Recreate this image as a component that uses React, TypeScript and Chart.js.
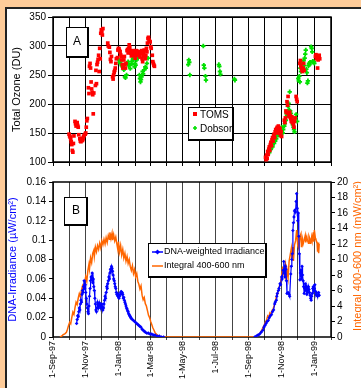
import React, { useEffect, useRef } from 'react';
import { Chart, registerables } from 'chart.js';
Chart.register(...registerables);

// x values are days since 1-Sep-97
const monthDays = [0, 30, 61, 91, 122, 153, 181, 212, 242, 273, 303, 334, 365, 395, 426, 456, 487, 518];
const monthLabels = ['1-Sep-97', '', '1-Nov-97', '', '1-Jan-98', '', '1-Mar-98', '', '1-May-98', '', '1-Jul-98', '', '1-Sep-98', '', '1-Nov-98', '', '1-Jan-99', ''];
const ozoneTicks = [100, 150, 200, 250, 300, 350];
const dnaTicks = [0, 0.02, 0.04, 0.06, 0.08, 0.1, 0.12, 0.14, 0.16];
const integralTicks = [0, 2, 4, 6, 8, 10, 12, 14, 16, 18, 20];

const tomsDays = [
  30, 31, 32, 33, 34, 35, 36, 37, 38, 39,
  41, 42, 43, 44, 45, 46, 47, 48, 50, 51,
  52, 53, 54, 55, 56, 57, 58, 60, 61, 62,
  63, 64, 66, 67, 68, 69, 70, 71, 72, 73,
  74, 75, 76, 79, 80, 81, 82, 83, 84, 85,
  86, 87, 88, 89, 90, 91, 92, 93, 102, 103,
  105, 106, 107, 108, 109, 111, 112, 113, 114, 115,
  116, 117, 118, 120, 121, 122, 123, 124, 125, 126,
  127, 128, 129, 130, 132, 133, 134, 135, 136, 138,
  139, 140, 141, 142, 143, 144, 145, 146, 148, 149,
  150, 151, 152, 153, 154, 155, 156, 157, 158, 159,
  160, 161, 162, 164, 165, 166, 167, 168, 169, 170,
  172, 173, 174, 175, 176, 177, 178, 179, 180, 181,
  182, 183, 185, 186, 187, 188, 189,
  396, 397, 398, 399, 400, 401, 402, 403, 404, 405,
  406, 407, 408, 409, 410, 411, 412, 413, 414, 415,
  416, 417, 418, 419, 420, 421, 422, 423, 424, 425,
  426, 431, 432, 433, 434, 435, 436, 437, 438, 439,
  440, 441, 442, 443, 444, 445, 446, 447, 448, 449,
  450, 451, 453, 454, 455, 460, 461, 462, 463, 464,
  465, 466, 467, 468, 489, 490, 491, 492, 493, 494,
  495, 496, 497,
];
const tomsOzone = [
  148, 145, 143, 140, 135, 130, 120, 117, 132, 145,
  170, 166, 162, 165, 168, 163, 160, 147, 140, 136,
  135, 138, 141, 137, 140, 144, 146, 148, 150, 160,
  171, 175, 228, 218, 265, 270, 262, 238, 226, 220,
  216, 183, 219, 232, 258, 235, 268, 272, 277, 284,
  256, 296, 278, 322, 328, 325, 319, 330, 305, 300,
  298, 289, 277, 273, 282, 247, 243, 250, 255, 258,
  262, 270, 278, 280, 293, 296, 295, 292, 290, 285,
  282, 276, 268, 262, 276, 282, 268, 262, 270, 292,
  294, 288, 296, 302, 298, 292, 288, 283, 286, 290,
  292, 287, 284, 279, 289, 292, 286, 291, 284, 288,
  290, 286, 281, 287, 292, 278, 273, 283, 289, 293,
  278, 284, 296, 290, 305, 313, 315, 310, 308, 307,
  299, 296, 284, 273, 270, 267, 265,
  108, 104, 112, 106, 118, 113, 122, 126, 120, 130,
  134, 128, 138, 142, 136, 145, 148, 142, 152, 156,
  150, 158, 160, 154, 162, 156, 150, 158, 146, 152,
  144, 172, 168, 176, 188, 185, 204, 198, 213, 182,
  178, 186, 180, 175, 170, 178, 168, 172, 165, 160,
  170, 176, 213, 208, 204, 270, 275, 265, 262, 258,
  256, 262, 270, 258, 282, 285, 278, 283, 262, 276,
  280, 284, 278,
];

const dobsonDays = [
  123, 124, 126, 128, 130, 132, 134, 135, 137, 139,
  140, 141, 143, 144, 146, 147, 148, 149, 150, 152,
  153, 154, 156, 158, 159, 161, 162, 163, 164, 165,
  167, 168, 170, 172, 173, 175, 177, 252, 253, 254,
  255, 280, 281, 282, 284, 285, 309, 310, 311, 312,
  338, 339, 402, 403, 404, 405, 406, 408, 409, 410,
  412, 413, 414, 416, 417, 418, 420, 421, 422, 424,
  425, 426, 428, 429, 431, 432, 434, 435, 436, 438,
  439, 440, 441, 442, 443, 444, 445, 446, 447, 448,
  449, 450, 452, 453, 455, 457, 458, 459, 460, 461,
  462, 463, 464, 466, 467, 468, 469, 470, 471, 472,
  473, 474, 475, 476, 477, 478, 479, 480, 481, 482,
  483, 484, 485, 486, 487,
];
const dobsonOzone = [
  276, 272, 270, 266, 264, 259, 247, 245, 250, 270,
  273, 266, 267, 261, 273, 269, 282, 278, 276, 264,
  270, 267, 276, 280, 282, 250, 244, 238, 242, 247,
  256, 252, 259, 264, 262, 270, 279, 268, 276, 272,
  250, 300, 267, 262, 248, 241, 268, 265, 256, 251,
  243, 241, 120, 116, 124, 128, 122, 130, 126, 134,
  132, 138, 136, 140, 145, 148, 150, 146, 152, 158,
  154, 160, 150, 156, 162, 166, 172, 184, 180, 196,
  201, 190, 221, 188, 184, 178, 172, 168, 164, 160,
  156, 152, 176, 182, 170, 244, 240, 248, 238, 262,
  256, 266, 268, 270, 275, 266, 279, 286, 293, 260,
  254, 236, 240, 266, 270, 268, 272, 272, 299, 296,
  290, 274, 272, 273, 270,
];

const dnaDays = [
  44, 45, 46, 47, 48, 49, 50, 51, 52, 53,
  54, 55, 56, 57, 58, 59, 60, 61, 62, 63,
  64, 65, 66, 67, 68, 69, 70, 71, 72, 73,
  74, 75, 76, 77, 78, 79, 80, 81, 82, 83,
  84, 85, 86, 87, 88, 89, 90, 91, 92, 93,
  94, 95, 96, 97, 98, 99, 100, 101, 102, 103,
  104, 105, 106, 107, 108, 109, 110, 111, 112, 113,
  114, 115, 116, 117, 118, 119, 120, 121, 122, 123,
  124, 125, 126, 127, 128, 129, 130, 131, 132, 133,
  134, 135, 136, 137, 138, 139, 140, 141, 142, 143,
  144, 145, 146, 148, 150, 152, 154, 156, 158, 160,
  162, 164, 166, 168, 170, 172, 175, 178, 181, 184,
  187, 190, 194, 198, 202, 206, 290,
  376, 379, 382, 385, 388, 391, 393, 395, 397, 399,
  401, 403, 405, 407, 409, 411, 413, 414, 416, 417,
  418, 420, 421, 423, 424, 426, 427, 429, 430, 431,
  432, 433, 434, 435, 436, 438, 440, 441, 443, 444,
  445, 446, 447, 448, 449, 450, 451, 452, 453, 454,
  455, 456, 457, 458, 459, 460, 461, 462, 463, 464,
  465, 466, 467, 468, 469, 470, 471, 472, 473, 474,
  475, 476, 477, 478, 479, 480, 481, 482, 483, 484,
  485, 486, 487, 488, 489, 490, 491, 492, 493, 494,
  495, 496,
];
const dnaValues = [
  0.014, 0.018, 0.022, 0.021, 0.026, 0.030, 0.028, 0.034, 0.038, 0.036,
  0.044, 0.048, 0.046, 0.052, 0.058, 0.050, 0.054, 0.046, 0.040, 0.034,
  0.030, 0.026, 0.024, 0.032, 0.042, 0.050, 0.058, 0.062, 0.060, 0.066,
  0.056, 0.060, 0.052, 0.048, 0.040, 0.034, 0.028, 0.026, 0.030, 0.036,
  0.034, 0.030, 0.032, 0.035, 0.033, 0.030, 0.032, 0.034, 0.031, 0.028,
  0.030, 0.034, 0.038, 0.042, 0.040, 0.046, 0.052, 0.050, 0.055, 0.058,
  0.062, 0.060, 0.066, 0.070, 0.068, 0.073, 0.071, 0.068, 0.064, 0.060,
  0.058, 0.055, 0.052, 0.050, 0.046, 0.044, 0.045, 0.042, 0.043, 0.040,
  0.042, 0.044, 0.046, 0.047, 0.045, 0.046, 0.044, 0.040, 0.041, 0.038,
  0.036, 0.034, 0.032, 0.030, 0.029, 0.027, 0.026, 0.024, 0.023, 0.022,
  0.021, 0.020, 0.019, 0.018, 0.017, 0.016, 0.015, 0.014, 0.013, 0.012,
  0.011, 0.010, 0.008, 0.007, 0.006, 0.005, 0.004, 0.004, 0.003, 0.003,
  0.002, 0.002, 0.001, 0.001, 0.000, 0.000, null,
  0.000, 0.001, 0.002, 0.003, 0.005, 0.007, 0.010, 0.012, 0.014, 0.016,
  0.017, 0.020, 0.022, 0.023, 0.026, 0.028, 0.034, 0.036, 0.038, 0.042,
  0.045, 0.048, 0.050, 0.055, 0.054, 0.062, 0.060, 0.069, 0.078, 0.066,
  0.062, 0.073, 0.070, 0.058, 0.045, 0.046, 0.044, 0.042, 0.065, 0.073,
  0.080, 0.086, 0.110, 0.118, 0.124, 0.130, 0.131, 0.129, 0.140, 0.148,
  0.133, 0.120, 0.128, 0.104, 0.086, 0.059, 0.066, 0.069, 0.060, 0.073,
  0.064, 0.058, 0.052, 0.045, 0.050, 0.055, 0.048, 0.052, 0.044, 0.050,
  0.046, 0.052, 0.049, 0.046, 0.043, 0.040, 0.038, 0.042, 0.045, 0.050,
  0.052, 0.048, 0.050, 0.054, 0.047, 0.044, 0.046, 0.043, 0.042, 0.044,
  0.046, 0.043,
];

const integralDays = [
  13, 16, 19, 22, 25, 27, 29, 31, 33, 35,
  37, 39, 41, 43, 45, 47, 49, 51, 53, 55,
  57, 59, 61, 63, 65, 67, 68, 70, 72, 74,
  76, 77, 79, 81, 83, 85, 87, 89, 91, 93,
  95, 97, 99, 101, 103, 105, 106, 108, 110, 111,
  113, 115, 117, 119, 121, 122, 124, 126, 128, 130,
  132, 134, 136, 138, 140, 142, 144, 146, 148, 150,
  152, 154, 156, 158, 160, 162, 164, 166, 168, 170,
  172, 174, 176, 178, 180, 182, 184, 186, 188, 190,
  192, 195, 198, 201, 250, 300, 350, 378,
  380, 383, 386, 389, 392, 395, 398, 400, 402, 404,
  406, 408, 410, 412, 414, 416, 418, 419, 421, 422,
  424, 426, 428, 429, 431, 433, 434, 436, 438, 440,
  442, 444, 445, 447, 448, 450, 452, 454, 455, 456,
  458, 460, 462, 463, 465, 466, 468, 470, 471, 473,
  474, 476, 477, 479, 480, 482, 483, 485, 486, 487,
  489, 490, 492, 493, 494, 495, 496,
];
const integralValues = [
  0, 0.1, 0.3, 0.4, 0.6, 1.0, 1.5, 1.9, 1.7, 2.5,
  3.2, 2.9, 3.8, 4.5, 4.2, 5.0, 5.6, 5.2, 6.0, 6.6,
  6.2, 7.1, 7.8, 7.2, 8.6, 9.4, 8.8, 10.2, 9.6, 10.8,
  11.2, 10.4, 11.6, 11.0, 11.8, 11.3, 12.1, 11.5, 12.4, 11.9,
  12.6, 12.0, 12.8, 12.2, 13.1, 12.6, 13.5, 12.7, 13.4, 12.5,
  13.2, 12.4, 12.9, 12.0, 11.2, 12.3, 11.0, 11.8, 10.6, 11.3,
  10.2, 10.8, 9.8, 10.4, 9.5, 10.0, 9.1, 8.6, 9.2, 8.2,
  8.7, 7.8, 8.2, 7.2, 6.8, 6.2, 6.6, 5.4, 4.8, 5.1,
  4.3, 4.0, 3.4, 2.8, 2.5, 2.0, 1.6, 1.2, 0.9, 0.6,
  0.4, 0.2, 0.1, 0, 0, 0, 0, 0,
  0.1, 0.3, 0.5, 0.9, 1.3, 1.8, 2.2, 2.7, 2.5, 3.1,
  2.9, 3.4, 3.6, 4.0, 4.4, 5.2, 5.6, 5.9, 6.2, 6.6,
  6.9, 7.9, 9.1, 8.2, 8.8, 9.4, 7.4, 8.6, 7.6, 9.8,
  10.6, 11.4, 10.2, 11.6, 9.8, 11.9, 12.4, 13.8, 12.9, 11.8,
  11.4, 12.9, 13.3, 11.6, 12.6, 12.0, 12.5, 13.1, 12.2, 12.9,
  12.5, 12.1, 13.0, 12.6, 12.0, 12.9, 12.4, 13.5, 12.3, 13.8,
  12.7, 12.5, 12.2, 11.0, 12.2, 10.8, 12.0,
];

const FONT = "'Liberation Sans', Arial, Helvetica, sans-serif";
const RED = '#ff0000';
const GREEN = '#00e000';
const BLUE = '#0000ff';
const ORANGE = '#ff6600';

function pts(xs: number[], ys: (number | null)[]) {
  return xs.map((x, i) => ({ x, y: ys[i] }));
}

function drawBox(ctx: CanvasRenderingContext2D, x: number, y: number, w: number, h: number) {
  ctx.fillStyle = '#fff';
  ctx.fillRect(x, y, w, h);
  ctx.fillStyle = '#000';
  ctx.fillRect(x, y, w, 1);
  ctx.fillRect(x, y, 1, h);
  ctx.fillRect(x + w - 1, y, 2, h + 1);
  ctx.fillRect(x, y + h - 1, w + 1, 2);
}

const framePlugin = {
  id: 'frame',
  beforeDatasetsDraw(chart: any) {
    const { ctx, chartArea: a } = chart;
    ctx.save();
    ctx.strokeStyle = '#000';
    ctx.lineWidth = 1.5;
    ctx.strokeRect(a.left, a.top, a.right - a.left, a.bottom - a.top);
    ctx.restore();
  },
};

const annotA = {
  id: 'annotA',
  afterDraw(chart: any) {
    const ctx: CanvasRenderingContext2D = chart.ctx;
    ctx.save();
    drawBox(ctx, 66, 27, 22, 30);
    ctx.fillStyle = '#000';
    ctx.font = `12px ${FONT}`;
    ctx.textAlign = 'center';
    ctx.textBaseline = 'middle';
    ctx.fillText('A', 77, 42);
    // legend
    drawBox(ctx, 188, 107, 45, 33);
    ctx.fillStyle = RED;
    ctx.fillRect(193, 112, 4, 4);
    ctx.strokeStyle = GREEN;
    ctx.lineWidth = 1.6;
    ctx.beginPath();
    ctx.moveTo(193, 128); ctx.lineTo(197, 128);
    ctx.moveTo(195, 126); ctx.lineTo(195, 130);
    ctx.stroke();
    ctx.fillStyle = '#000';
    ctx.font = `10px ${FONT}`;
    ctx.textAlign = 'left';
    ctx.fillText('TOMS', 200, 115);
    ctx.fillText('Dobson', 200, 129);
    ctx.restore();
  },
};

const annotB = {
  id: 'annotB',
  afterDraw(chart: any) {
    const ctx: CanvasRenderingContext2D = chart.ctx;
    ctx.save();
    drawBox(ctx, 64, 25, 23, 28);
    ctx.fillStyle = '#000';
    ctx.font = `12px ${FONT}`;
    ctx.textAlign = 'center';
    ctx.textBaseline = 'middle';
    ctx.fillText('B', 76, 39);
    // legend
    drawBox(ctx, 148, 71, 118, 34);
    ctx.strokeStyle = BLUE;
    ctx.lineWidth = 1.5;
    ctx.beginPath(); ctx.moveTo(152, 80); ctx.lineTo(163, 80); ctx.stroke();
    ctx.fillStyle = BLUE;
    ctx.beginPath();
    ctx.moveTo(157.5, 77.5); ctx.lineTo(160, 80); ctx.lineTo(157.5, 82.5); ctx.lineTo(155, 80);
    ctx.closePath(); ctx.fill();
    ctx.strokeStyle = ORANGE;
    ctx.beginPath(); ctx.moveTo(152, 94); ctx.lineTo(163, 94); ctx.stroke();
    ctx.fillStyle = '#000';
    ctx.font = `9px ${FONT}`;
    ctx.textAlign = 'left';
    ctx.fillText('DNA-weighted Irradiance', 164, 80);
    ctx.fillText('Integral 400-600 nm', 164, 94);
    // right axis title
    ctx.translate(358, 84);
    ctx.rotate(-Math.PI / 2);
    ctx.textAlign = 'center';
    ctx.fillStyle = ORANGE;
    ctx.font = `11px ${FONT}`;
    ctx.fillText('Integral 400-600 nm (mW/cm²)', 0, 0);
    ctx.restore();
  },
};

export default function App() {
  const refA = useRef<HTMLCanvasElement>(null);
  const refB = useRef<HTMLCanvasElement>(null);

  useEffect(() => {
    const xMonthTicks = (s: any) => {
      s.ticks = monthDays.map((v) => ({ value: v }));
    };
    const chartA = new Chart(refA.current!, {
      type: 'scatter',
      data: {
        datasets: [
          {
            label: 'TOMS',
            data: pts(tomsDays, tomsOzone),
            pointStyle: 'rect',
            pointRadius: 2.6,
            backgroundColor: RED,
            borderColor: RED,
            borderWidth: 0,
          },
          {
            label: 'Dobson',
            data: pts(dobsonDays, dobsonOzone),
            pointStyle: 'cross',
            pointRadius: 2.2,
            backgroundColor: GREEN,
            borderColor: GREEN,
            borderWidth: 1.8,
          },
        ],
      } as any,
      options: {
        responsive: false,
        animation: false,
        devicePixelRatio: 1,
        layout: { padding: { left: 0, top: 17, right: 30, bottom: 0 } },
        plugins: { legend: { display: false }, tooltip: { enabled: false } },
        scales: {
          x: {
            type: 'linear',
            min: 0,
            max: 518,
            afterBuildTicks: xMonthTicks,
            ticks: { display: false },
            grid: { color: '#000', lineWidth: 1, tickLength: 4 },
            border: { display: false },
            afterFit: (s: any) => { s.height = 10; },
          },
          y: {
            min: 100,
            max: 350,
            afterBuildTicks: (s: any) => { s.ticks = ozoneTicks.map((v) => ({ value: v })); },
            ticks: { color: '#000', font: { family: FONT, size: 10 }, padding: 2 },
            grid: { color: '#000', lineWidth: 1, tickLength: 5 },
            border: { display: false },
            title: {
              display: true,
              text: 'Total Ozone (DU)',
              color: '#000',
              font: { family: FONT, size: 11 },
              padding: { top: 10, bottom: 0 },
            },
            afterFit: (s: any) => { s.width = 53; },
          },
        },
      } as any,
      plugins: [framePlugin, annotA],
    });

    const chartB = new Chart(refB.current!, {
      type: 'scatter',
      data: {
        datasets: [
          {
            label: 'DNA-weighted Irradiance',
            data: pts(dnaDays, dnaValues),
            yAxisID: 'y',
            showLine: true,
            spanGaps: false,
            borderColor: BLUE,
            backgroundColor: BLUE,
            borderWidth: 1.2,
            pointStyle: 'rectRot',
            pointRadius: 1.8,
            pointBorderWidth: 0,
          },
          {
            label: 'Integral 400-600 nm',
            data: pts(integralDays, integralValues),
            yAxisID: 'y1',
            showLine: true,
            borderColor: ORANGE,
            backgroundColor: ORANGE,
            borderWidth: 1.5,
            pointRadius: 0,
          },
        ],
      } as any,
      options: {
        responsive: false,
        animation: false,
        devicePixelRatio: 1,
        layout: { padding: { left: 0, top: 10, right: 0, bottom: 0 } },
        plugins: { legend: { display: false }, tooltip: { enabled: false } },
        scales: {
          x: {
            type: 'linear',
            min: 0,
            max: 518,
            afterBuildTicks: xMonthTicks,
            ticks: {
              autoSkip: false,
              minRotation: 90,
              maxRotation: 90,
              padding: 1,
              color: '#000',
              font: { family: FONT, size: 9 },
              callback: (_v: any, i: number) => monthLabels[i],
            },
            grid: { color: '#444', lineWidth: 1, tickLength: 3 },
            border: { display: false },
            afterFit: (s: any) => { s.height = 51; },
          },
          y: {
            position: 'left',
            min: 0,
            max: 0.16,
            afterBuildTicks: (s: any) => { s.ticks = dnaTicks.map((v) => ({ value: v })); },
            ticks: {
              color: '#000',
              font: { family: FONT, size: 10 },
              padding: 3,
              callback: (v: any) => String(+Number(v).toFixed(2)),
            },
            grid: { drawOnChartArea: false, color: '#000', tickLength: 4 },
            border: { display: false },
            title: {
              display: true,
              text: 'DNA-Irradiance (µW/cm²)',
              color: BLUE,
              font: { family: FONT, size: 11 },
              padding: { top: 6, bottom: 0 },
            },
            afterFit: (s: any) => { s.width = 53; },
          },
          y1: {
            position: 'right',
            min: 0,
            max: 20,
            afterBuildTicks: (s: any) => { s.ticks = integralTicks.map((v) => ({ value: v })); },
            ticks: { color: '#000', font: { family: FONT, size: 10 }, padding: 2 },
            grid: { drawOnChartArea: false, color: '#000', tickLength: 4 },
            border: { display: false },
            afterFit: (s: any) => { s.width = 41; },
          },
        },
      } as any,
      plugins: [framePlugin, annotB],
    });

    return () => {
      chartA.destroy();
      chartB.destroy();
    };
  }, []);

  return (
    <div style={{ position: 'fixed', left: 0, top: 0, width: 361, height: 388, overflow: 'hidden', background: '#ffcc99' }}>
      <div style={{ position: 'absolute', left: 5, top: 7, width: 420, height: 420, background: '#fff', borderLeft: '2px solid #222', borderTop: '2px solid #222' }} />
      <canvas ref={refA} width={361} height={172} style={{ position: 'absolute', left: 0, top: 0 }} />
      <canvas ref={refB} width={372} height={216} style={{ position: 'absolute', left: 0, top: 172 }} />
    </div>
  );
}
